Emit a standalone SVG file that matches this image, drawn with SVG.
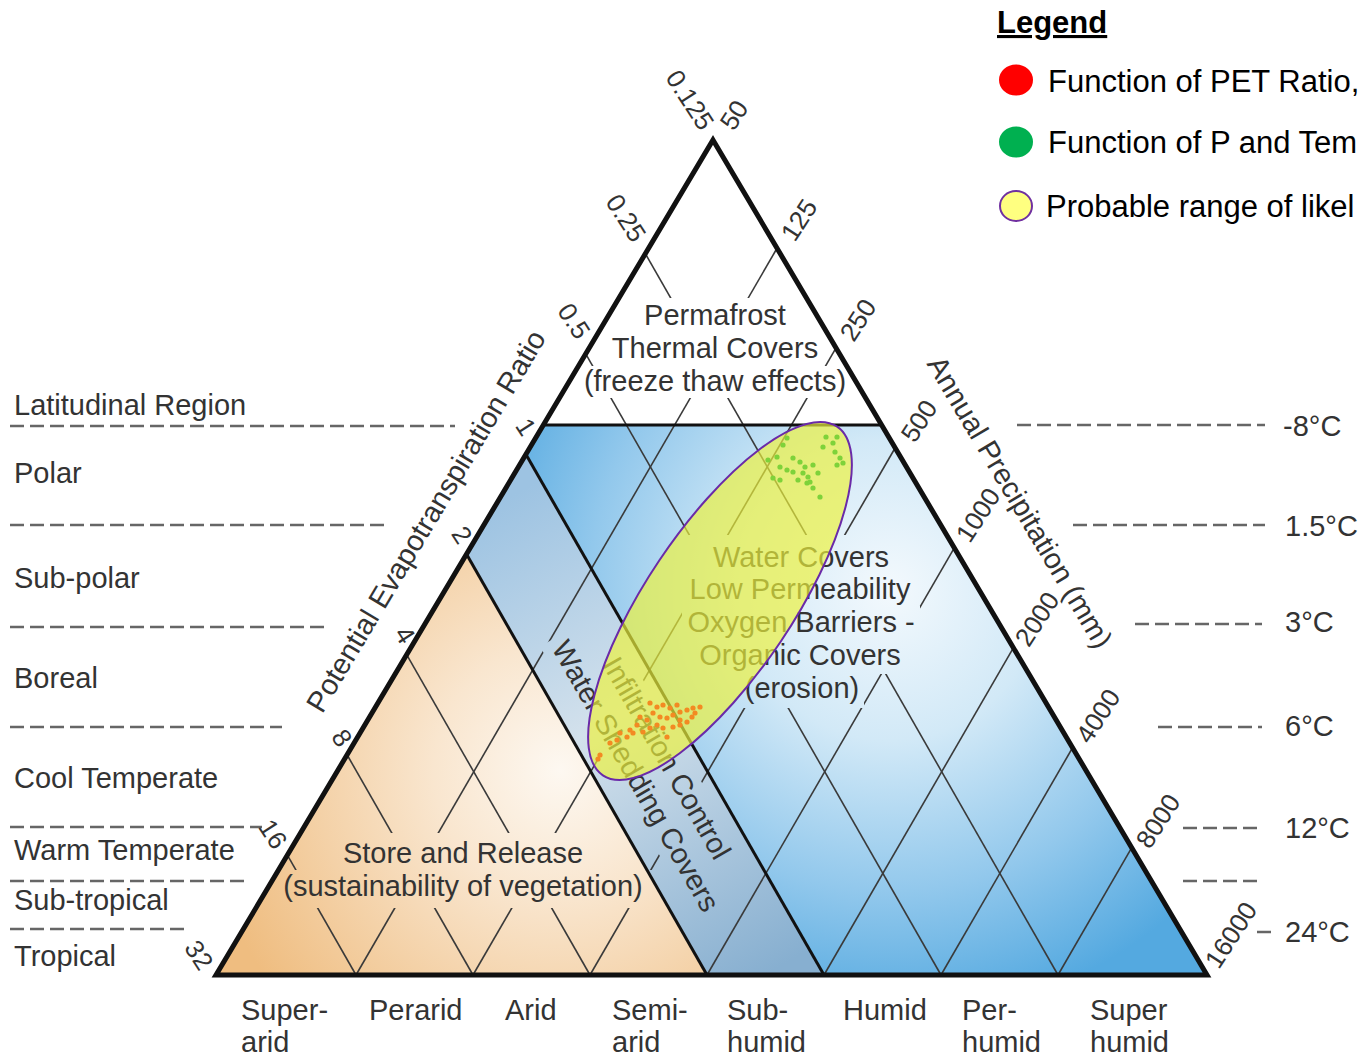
<svg xmlns="http://www.w3.org/2000/svg" width="1363" height="1057" viewBox="0 0 1363 1057">
<style>
.t{font-family:"Liberation Sans",Arial,sans-serif;font-size:29px;fill:#333}
.tk{font-family:"Liberation Sans",Arial,sans-serif;font-size:26px;fill:#333}
.lg{font-family:"Liberation Sans",Arial,sans-serif;font-size:31px;fill:#000}
.dash{stroke:#666;stroke-width:2.5;stroke-dasharray:14 6;fill:none}
.grid line{stroke:#3a3a3a;stroke-width:1.6}
.bold{stroke:#111;stroke-width:3;fill:none}
.gdot{fill:#7ed23a}
.odot{fill:#f38a22}
</style>
<defs>
<radialGradient id="gBlue" gradientUnits="userSpaceOnUse" cx="890" cy="590" r="430">
<stop offset="0" stop-color="#f3f9fd"/><stop offset="0.35" stop-color="#d2e9f7"/><stop offset="0.7" stop-color="#92c8ec"/><stop offset="1" stop-color="#54a9e0"/>
</radialGradient>
<linearGradient id="gBand" gradientUnits="userSpaceOnUse" x1="496" y1="505" x2="765" y2="975">
<stop offset="0" stop-color="#9dc3e2"/><stop offset="0.45" stop-color="#d3e1ec"/><stop offset="1" stop-color="#87afd0"/>
</linearGradient>
<radialGradient id="gTan" gradientUnits="userSpaceOnUse" cx="560" cy="770" r="360">
<stop offset="0" stop-color="#fdf8f1"/><stop offset="0.35" stop-color="#f9e6cf"/><stop offset="1" stop-color="#efbd80"/>
</radialGradient>
<mask id="textMask" maskUnits="userSpaceOnUse" x="0" y="0" width="1363" height="1057">
<rect x="0" y="0" width="1363" height="1057" fill="#fff"/>
<g fill="#000">
<rect x="640" y="298" width="150" height="34"/>
<rect x="607" y="332" width="216" height="34"/>
<rect x="578" y="366" width="274" height="32"/>
<rect x="680" y="535" width="215" height="37"/>
<rect x="684" y="572" width="232" height="34"/>
<rect x="682" y="606" width="238" height="34"/>
<rect x="694" y="640" width="212" height="34"/>
<rect x="742" y="674" width="122" height="34"/>
<rect x="338" y="833" width="252" height="37"/>
<rect x="276" y="870" width="376" height="38"/>
<rect x="476" y="758" width="320" height="37" transform="rotate(60.2 636 776)"/>
<rect x="543" y="740" width="248" height="37" transform="rotate(60.2 667 758)"/>
</g>
</mask>
</defs>

<g id="regions">
<polygon points="713,140 881,425 544,425" fill="#fff"/>
<polygon points="544,425 881,425 1207,975 824,975 526,454.5" fill="url(#gBlue)"/>
<polygon points="526,454.5 824,975 707,975 467,555" fill="url(#gBand)"/>
<polygon points="467,555 707,975 216,975" fill="url(#gTan)"/>
</g>

<g id="grid" class="grid" mask="url(#textMask)">
<line x1="356" y1="975" x2="287.4" y2="855.1"/>
<line x1="473" y1="975" x2="347.2" y2="755"/>
<line x1="590" y1="975" x2="406.8" y2="654.8"/>
<line x1="941" y1="975" x2="586" y2="354.3"/>
<line x1="1058" y1="975" x2="645.6" y2="254.1"/>
<line x1="356" y1="975" x2="776.3" y2="249.5"/>
<line x1="473" y1="975" x2="835.6" y2="348.7"/>
<line x1="590" y1="975" x2="894.8" y2="448.5"/>
<line x1="707" y1="975" x2="954" y2="548.4"/>
<line x1="824" y1="975" x2="1013.2" y2="648.2"/>
<line x1="941" y1="975" x2="1072.4" y2="748"/>
<line x1="1058" y1="975" x2="1131.6" y2="847.9"/>
</g>

<g id="boundaries">
<line class="bold" x1="544" y1="425" x2="881" y2="425" stroke="#2a2a2a"/>
<line class="bold" x1="526" y1="454.5" x2="824" y2="975"/>
<line class="bold" x1="467" y1="555" x2="707" y2="975"/>
<polygon points="713,140 1207,975 216,975" fill="none" stroke="#111" stroke-width="5"/>
</g>

<g id="lat-dashes">
<line class="dash" x1="10" y1="426" x2="455" y2="426"/>
<line class="dash" x1="10" y1="525" x2="388" y2="525"/>
<line class="dash" x1="10" y1="627" x2="326" y2="627"/>
<line class="dash" x1="10" y1="727" x2="282" y2="727"/>
<line class="dash" x1="10" y1="827" x2="262" y2="827"/>
<line class="dash" x1="10" y1="881" x2="247" y2="881"/>
<line class="dash" x1="10" y1="929" x2="190" y2="929"/>
<line class="dash" x1="1017" y1="425" x2="1265" y2="425"/>
<line class="dash" x1="1073" y1="525" x2="1265" y2="525"/>
<line class="dash" x1="1135" y1="624" x2="1262" y2="624"/>
<line class="dash" x1="1158" y1="727" x2="1262" y2="727"/>
<line class="dash" x1="1183" y1="828" x2="1262" y2="828"/>
<line class="dash" x1="1183" y1="881" x2="1262" y2="881"/>
<line class="dash" x1="1257" y1="932" x2="1271" y2="932"/>
</g>

<g id="lat-labels">
<text class="t" x="14" y="415">Latitudinal Region</text>
<text class="t" x="14" y="483">Polar</text>
<text class="t" x="14" y="588">Sub-polar</text>
<text class="t" x="14" y="688">Boreal</text>
<text class="t" x="14" y="788">Cool Temperate</text>
<text class="t" x="14" y="860">Warm Temperate</text>
<text class="t" x="14" y="910">Sub-tropical</text>
<text class="t" x="14" y="966">Tropical</text>
</g>

<g id="temp-labels">
<text class="t" x="1283" y="436">-8°C</text>
<text class="t" x="1285" y="536">1.5°C</text>
<text class="t" x="1285" y="632">3°C</text>
<text class="t" x="1285" y="736">6°C</text>
<text class="t" x="1285" y="838">12°C</text>
<text class="t" x="1285" y="942">24°C</text>
</g>

<g id="left-ticks" text-anchor="middle">
<text class="tk" x="690" y="109" transform="rotate(57 690 100)">0.125</text>
<text class="tk" x="626" y="227" transform="rotate(57 626 218)">0.25</text>
<text class="tk" x="574" y="330" transform="rotate(57 574 321)">0.5</text>
<text class="tk" x="526" y="436" transform="rotate(57 526 427)">1</text>
<text class="tk" x="462" y="544" transform="rotate(57 462 535)">2</text>
<text class="tk" x="405" y="644" transform="rotate(57 405 635)">4</text>
<text class="tk" x="342" y="747" transform="rotate(57 342 738)">8</text>
<text class="tk" x="273" y="843" transform="rotate(57 273 834)">16</text>
<text class="tk" x="199" y="964" transform="rotate(57 199 955)">32</text>
</g>

<g id="right-ticks" text-anchor="middle">
<text class="tk" x="734" y="124" transform="rotate(-57 734 115)">50</text>
<text class="tk" x="799" y="229" transform="rotate(-57 799 220)">125</text>
<text class="tk" x="858" y="329" transform="rotate(-57 858 320)">250</text>
<text class="tk" x="919" y="430" transform="rotate(-57 919 421)">500</text>
<text class="tk" x="978" y="524" transform="rotate(-57 978 515)">1000</text>
<text class="tk" x="1037" y="628" transform="rotate(-57 1037 619)">2000</text>
<text class="tk" x="1098" y="725" transform="rotate(-57 1098 716)">4000</text>
<text class="tk" x="1158" y="830" transform="rotate(-57 1158 821)">8000</text>
<text class="tk" x="1231" y="944" transform="rotate(-57 1231 935)">16000</text>
</g>

<g id="axis-titles" text-anchor="middle">
<text class="t" x="426" y="531" transform="rotate(-59.2 426 521)">Potential Evapotranspiration Ratio</text>
<text class="t" x="1020" y="512" transform="rotate(59.3 1020 502)">Annual Precipitation (mm)</text>
</g>

<g id="bottom-labels">
<text class="t" x="241" y="1020">Super-</text>
<text class="t" x="241" y="1052">arid</text>
<text class="t" x="369" y="1020">Perarid</text>
<text class="t" x="505" y="1020">Arid</text>
<text class="t" x="612" y="1020">Semi-</text>
<text class="t" x="612" y="1052">arid</text>
<text class="t" x="727" y="1020">Sub-</text>
<text class="t" x="727" y="1052">humid</text>
<text class="t" x="843" y="1020">Humid</text>
<text class="t" x="962" y="1020">Per-</text>
<text class="t" x="962" y="1052">humid</text>
<text class="t" x="1090" y="1020">Super</text>
<text class="t" x="1090" y="1052">humid</text>
</g>

<g id="zone-labels" text-anchor="middle">
<text class="t" x="715" y="325">Permafrost</text>
<text class="t" x="715" y="358">Thermal Covers</text>
<text class="t" x="715" y="391">(freeze thaw effects)</text>
<text class="t" x="801" y="567">Water Covers</text>
<text class="t" x="800" y="599">Low Permeability</text>
<text class="t" x="801" y="632">Oxygen Barriers -</text>
<text class="t" x="800" y="665">Organic Covers</text>
<text class="t" x="802" y="698">(erosion)</text>
<text class="t" x="463" y="863">Store and Release</text>
<text class="t" x="463" y="896">(sustainability of vegetation)</text>
<text class="t" x="636" y="786" transform="rotate(60.2 636 776)">Water Shedding Covers</text>
<text class="t" x="667" y="768" transform="rotate(60.2 667 758)">Infiltration Control</text>
</g>

<g id="probable-range">
<ellipse cx="720" cy="601" rx="210" ry="73" transform="rotate(-56.1 720 601)" fill="#eef23c" fill-opacity="0.68" stroke="#6a2aa8" stroke-width="2"/>
</g>

<g id="green-dots">
<circle class="gdot" cx="787" cy="438" r="2.6"/><circle class="gdot" cx="783" cy="445" r="2.6"/><circle class="gdot" cx="777" cy="457" r="2.6"/><circle class="gdot" cx="768" cy="460" r="2.6"/><circle class="gdot" cx="780" cy="467" r="2.6"/><circle class="gdot" cx="787" cy="470" r="2.6"/><circle class="gdot" cx="773" cy="478" r="2.6"/><circle class="gdot" cx="780" cy="480" r="2.6"/><circle class="gdot" cx="793" cy="458" r="2.6"/><circle class="gdot" cx="800" cy="462" r="2.6"/><circle class="gdot" cx="805" cy="467" r="2.6"/><circle class="gdot" cx="803" cy="473" r="2.6"/><circle class="gdot" cx="808" cy="477" r="2.6"/><circle class="gdot" cx="807" cy="483" r="2.6"/><circle class="gdot" cx="813" cy="488" r="2.6"/><circle class="gdot" cx="820" cy="497" r="2.6"/><circle class="gdot" cx="823" cy="447" r="2.6"/><circle class="gdot" cx="833" cy="443" r="2.6"/><circle class="gdot" cx="837" cy="437" r="2.6"/><circle class="gdot" cx="835" cy="452" r="2.6"/><circle class="gdot" cx="840" cy="458" r="2.6"/><circle class="gdot" cx="837" cy="465" r="2.6"/><circle class="gdot" cx="843" cy="463" r="2.6"/><circle class="gdot" cx="813" cy="465" r="2.6"/><circle class="gdot" cx="818" cy="473" r="2.6"/><circle class="gdot" cx="810" cy="482" r="2.6"/><circle class="gdot" cx="798" cy="480" r="2.6"/><circle class="gdot" cx="793" cy="472" r="2.6"/><circle class="gdot" cx="826" cy="437" r="2.6"/>
</g>

<g id="orange-dots">
<circle class="odot" cx="650" cy="703" r="2.6"/><circle class="odot" cx="657" cy="707" r="2.6"/><circle class="odot" cx="663" cy="705" r="2.6"/><circle class="odot" cx="670" cy="708" r="2.6"/><circle class="odot" cx="677" cy="705" r="2.6"/><circle class="odot" cx="680" cy="712" r="2.6"/><circle class="odot" cx="687" cy="710" r="2.6"/><circle class="odot" cx="693" cy="708" r="2.6"/><circle class="odot" cx="700" cy="707" r="2.6"/><circle class="odot" cx="653" cy="713" r="2.6"/><circle class="odot" cx="660" cy="717" r="2.6"/><circle class="odot" cx="667" cy="718" r="2.6"/><circle class="odot" cx="673" cy="715" r="2.6"/><circle class="odot" cx="680" cy="720" r="2.6"/><circle class="odot" cx="687" cy="722" r="2.6"/><circle class="odot" cx="692" cy="717" r="2.6"/><circle class="odot" cx="640" cy="717" r="2.6"/><circle class="odot" cx="647" cy="720" r="2.6"/><circle class="odot" cx="637" cy="725" r="2.6"/><circle class="odot" cx="630" cy="730" r="2.6"/><circle class="odot" cx="620" cy="733" r="2.6"/><circle class="odot" cx="627" cy="737" r="2.6"/><circle class="odot" cx="633" cy="733" r="2.6"/><circle class="odot" cx="643" cy="732" r="2.6"/><circle class="odot" cx="650" cy="728" r="2.6"/><circle class="odot" cx="657" cy="725" r="2.6"/><circle class="odot" cx="663" cy="728" r="2.6"/><circle class="odot" cx="673" cy="727" r="2.6"/><circle class="odot" cx="680" cy="725" r="2.6"/><circle class="odot" cx="667" cy="737" r="2.6"/><circle class="odot" cx="617" cy="740" r="2.6"/><circle class="odot" cx="610" cy="743" r="2.6"/><circle class="odot" cx="600" cy="755" r="2.6"/><circle class="odot" cx="598" cy="759" r="2.6"/><circle class="odot" cx="695" cy="713" r="2.6"/>
</g>

<g id="legend">
<text class="lg" x="997" y="33" font-weight="bold" font-size="30" text-decoration="underline">Legend</text>
<ellipse cx="1016" cy="80" rx="17" ry="15.5" fill="#ff0000"/>
<text class="lg" x="1048" y="92">Function of PET Ratio,</text>
<ellipse cx="1016" cy="142" rx="17" ry="15.5" fill="#00b050"/>
<text class="lg" x="1048" y="153">Function of P and Tem</text>
<ellipse cx="1016" cy="206" rx="16" ry="15" fill="#ffff80" stroke="#7030a0" stroke-width="2"/>
<text class="lg" x="1046" y="217">Probable range of likel</text>
</g>
</svg>
